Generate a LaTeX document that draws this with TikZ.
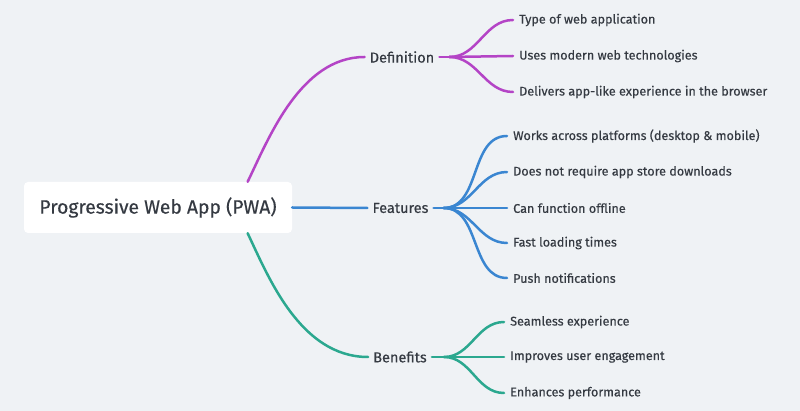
\documentclass[tikz,border=0pt]{standalone}
\usepackage{fontspec}
\setmainfont{Fira Sans}[UprightFeatures={FakeBold=0.4}]
\usetikzlibrary{positioning}

\definecolor{bgcol}{HTML}{EFF2F5}
\definecolor{txtcol}{HTML}{353A42}
\definecolor{defcol}{HTML}{B444C6}
\definecolor{featcol}{HTML}{3A86D1}
\definecolor{bencol}{HTML}{2BA88F}

\tikzset{
  leaf/.style={anchor=west,inner sep=6pt,text=txtcol,font=\fontsize{12.6}{15}\selectfont},
  topic/.style={inner sep=5pt,text=txtcol,font=\fontsize{14.5}{17}\selectfont},
  branch/.style={line width=2.5pt,line cap=round}
}

\begin{document}
\begin{tikzpicture}[x=1pt,y=-1pt]
  \fill[bgcol] (0,0) rectangle (800,411);
  \useasboundingbox (0,0) rectangle (800,411);

  \node[fill=white,rounded corners=4pt,minimum width=268pt,minimum height=51pt,
        text=txtcol,font=\fontsize{19.3}{22}\selectfont] (root) at (158,207.5)
        {Progressive Web App (PWA)};

  \node[topic] (def) at (402,57) {Definition};
  \node[topic] (feat) at (400.5,208) {Features};
  \node[topic] (ben) at (400,357) {Benefits};

  \node[leaf] (def1) at (513,20) {Type of web application};
  \node[leaf] (def2) at (513,56) {Uses modern web technologies};
  \node[leaf] (def3) at (513,92) {Delivers app-like experience in the browser};

  \node[leaf] (feat1) at (507,136) {Works across platforms (desktop \& mobile)};
  \node[leaf] (feat2) at (507,172) {Does not require app store downloads};
  \node[leaf] (feat3) at (507,208) {Can function offline};
  \node[leaf] (feat4) at (507,243) {Fast loading times};
  \node[leaf] (feat5) at (507,278) {Push notifications};

  \node[leaf] (ben1) at (504,322) {Seamless experience};
  \node[leaf] (ben2) at (504,357) {Improves user engagement};
  \node[leaf] (ben3) at (504,393) {Enhances performance};

  \begin{scope}[branch,color=defcol]
    \draw (root.16) .. controls (268,140) and (300,57) .. (def.west);
    \draw (def.east) -- ++(10,0) coordinate (defhub);
    \draw (defhub) to[out=0,in=180] (def1.west);
    \draw (defhub) -- (def2.west);
    \draw (defhub) to[out=0,in=180] (def3.west);
  \end{scope}

  \begin{scope}[branch,color=featcol]
    \draw (root.east) -- (feat.west);
    \draw (feat.east) -- ++(10,0) coordinate (feathub);
    \draw (feathub) to[out=0,in=180] (feat1.west);
    \draw (feathub) to[out=0,in=180] (feat2.west);
    \draw (feathub) -- (feat3.west);
    \draw (feathub) to[out=0,in=180] (feat4.west);
    \draw (feathub) to[out=0,in=180] (feat5.west);
  \end{scope}

  \begin{scope}[branch,color=bencol]
    \draw (root.-16) .. controls (268,276) and (300,357) .. (ben.west);
    \draw (ben.east) -- ++(12,0) coordinate (benhub);
    \draw (benhub) to[out=0,in=180] (ben1.west);
    \draw (benhub) -- (ben2.west);
    \draw (benhub) to[out=0,in=180] (ben3.west);
  \end{scope}
\end{tikzpicture}
\end{document}
